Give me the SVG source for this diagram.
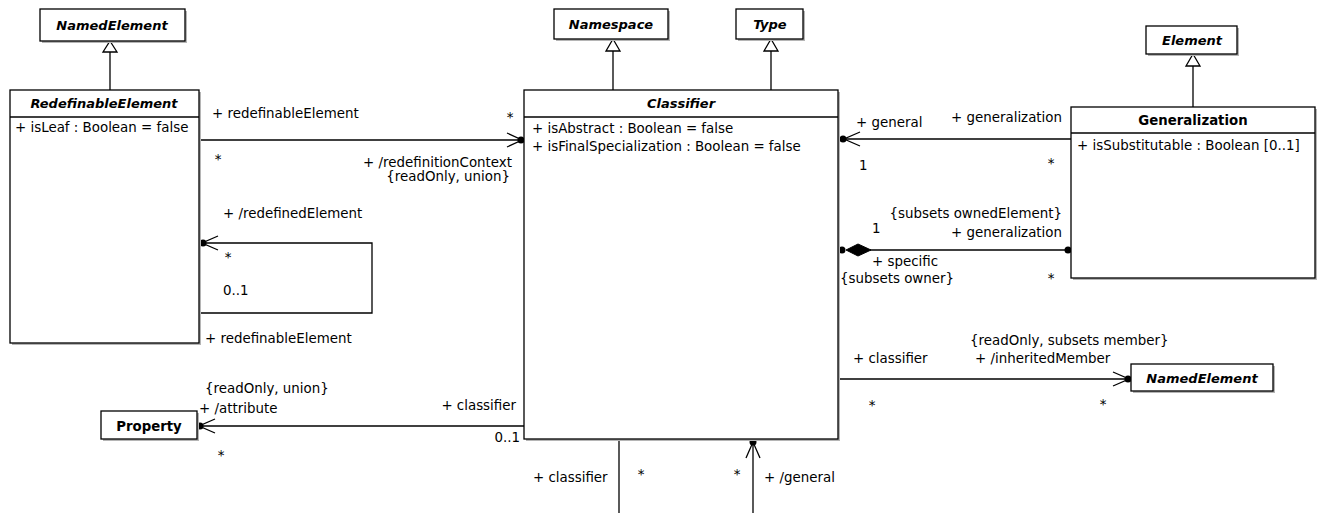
<svg xmlns="http://www.w3.org/2000/svg" width="1318" height="513" viewBox="0 0 1318 513">
<style>
text{font-family:"DejaVu Sans",Verdana,sans-serif;font-size:13.4px;fill:#000}
.t{font-weight:bold;font-style:italic;text-anchor:middle;font-size:13px}
.tb{font-weight:bold;text-anchor:middle;font-size:13.3px}
.m{text-anchor:middle}
.e{text-anchor:end}
.box{fill:#fff;stroke:#000;stroke-width:1.3}
.sh{fill:#b5b5b5}
.ln{fill:none;stroke:#000;stroke-width:1.3}
.tri{fill:#fff;stroke:#000;stroke-width:1.3}
.dot{fill:#000}
</style>
<rect width="1318" height="513" fill="#fff"/>

<g id="connectors">
  <!-- generalizations -->
  <line class="ln" x1="110" y1="52" x2="110" y2="90"/>
  <polygon class="tri" points="110,41 117,52 103,52"/>
  <line class="ln" x1="613" y1="51" x2="613" y2="90"/>
  <polygon class="tri" points="613,39 620,51 606,51"/>
  <line class="ln" x1="771" y1="51" x2="771" y2="90"/>
  <polygon class="tri" points="771,39 778,51 764,51"/>
  <line class="ln" x1="1193" y1="66" x2="1193" y2="107"/>
  <polygon class="tri" points="1193,54 1200,66 1186,66"/>

  <!-- redefinitionContext -->
  <line class="ln" x1="200" y1="140" x2="522" y2="140"/>
  <polyline class="ln" points="507,133 522,140 507,147"/>
  <circle class="dot" cx="521" cy="140" r="3.5"/>

  <!-- redefinedElement self loop -->
  <polyline class="ln" points="201,243 372,243 372,313 200,313"/>
  <polyline class="ln" points="218,236 202,243 218,250"/>
  <circle class="dot" cx="203" cy="243" r="3.5"/>

  <!-- attribute -->
  <line class="ln" x1="198" y1="426" x2="524" y2="426"/>
  <polyline class="ln" points="215,419 199,426 215,433"/>
  <circle class="dot" cx="200" cy="426" r="3.5"/>

  <!-- general -->
  <line class="ln" x1="839" y1="139" x2="1071" y2="139"/>
  <polyline class="ln" points="860,132 844,139 860,146"/>
  <circle class="dot" cx="843" cy="139" r="3.5"/>

  <!-- specific composition -->
  <line class="ln" x1="870" y1="250" x2="1070" y2="250"/>
  <polygon points="846,250 858,244 871,250 858,256" fill="#000" stroke="#000" stroke-width="1"/>
  <circle class="dot" cx="842" cy="250" r="3.5"/>
  <circle class="dot" cx="1068" cy="250" r="3.5"/>

  <!-- inheritedMember -->
  <line class="ln" x1="839" y1="379" x2="1130" y2="379"/>
  <polyline class="ln" points="1113,372 1129,379 1113,386"/>
  <circle class="dot" cx="1128" cy="379" r="3.5"/>

  <!-- bottom lines -->
  <line class="ln" x1="619" y1="439" x2="619" y2="513"/>
  <line class="ln" x1="753" y1="441" x2="753" y2="513"/>
  <polyline class="ln" points="746,458 753,442 760,458"/>
  <circle class="dot" cx="753" cy="442" r="3.5"/>
</g>

<g id="labels">
  <text x="212" y="118">+ redefinableElement</text>
  <text class="m" x="218" y="164">*</text>
  <text class="e" x="512" y="167">+ /redefinitionContext</text>
  <text class="e" x="510" y="181">{readOnly, union}</text>
  <text class="m" x="510" y="122">*</text>
  <text x="223" y="218">+ /redefinedElement</text>
  <text class="m" x="228" y="262">*</text>
  <text x="223" y="295">0..1</text>
  <text x="205" y="343">+ redefinableElement</text>
  <text x="205" y="393">{readOnly, union}</text>
  <text x="199" y="413">+ /attribute</text>
  <text class="m" x="221" y="460">*</text>
  <text class="e" x="516" y="410">+ classifier</text>
  <text class="e" x="520" y="442">0..1</text>
  <text x="533" y="482">+ classifier</text>
  <text class="m" x="641" y="479">*</text>
  <text class="m" x="737" y="479">*</text>
  <text x="764" y="482">+ /general</text>
  <text x="856" y="127">+ general</text>
  <text x="859" y="170">1</text>
  <text class="e" x="1062" y="122">+ generalization</text>
  <text class="m" x="1051" y="168">*</text>
  <text class="e" x="1062" y="218">{subsets ownedElement}</text>
  <text x="872" y="233">1</text>
  <text class="e" x="1062" y="237">+ generalization</text>
  <text x="872" y="266">+ specific</text>
  <text x="840" y="283">{subsets owner}</text>
  <text class="m" x="1051" y="283">*</text>
  <text x="853" y="363">+ classifier</text>
  <text class="m" x="872" y="410">*</text>
  <text x="970" y="345">{readOnly, subsets member}</text>
  <text x="975" y="363">+ /inheritedMember</text>
  <text class="m" x="1103" y="409">*</text>
</g>

<g id="NamedElement_top">
  <rect class="sh" x="42" y="11" width="145" height="32"/>
  <rect class="box" x="40" y="9" width="145" height="32"/>
  <text class="t" x="112" y="30">NamedElement</text>
</g>

<g id="Namespace">
  <rect class="sh" x="556" y="11" width="114" height="30"/>
  <rect class="box" x="554" y="9" width="114" height="30"/>
  <text class="t" x="611" y="29">Namespace</text>
</g>

<g id="Type">
  <rect class="sh" x="738" y="11" width="67" height="30"/>
  <rect class="box" x="736" y="9" width="67" height="30"/>
  <text class="t" x="770" y="29">Type</text>
</g>

<g id="Element">
  <rect class="sh" x="1148" y="28" width="91" height="28"/>
  <rect class="box" x="1146" y="26" width="91" height="28"/>
  <text class="t" x="1192" y="45">Element</text>
</g>

<g id="RedefinableElement">
  <rect class="sh" x="12" y="92" width="189" height="253"/>
  <rect class="box" x="10" y="90" width="189" height="253"/>
  <line class="ln" x1="10" y1="117" x2="199" y2="117"/>
  <text class="t" x="104" y="108">RedefinableElement</text>
  <text x="15" y="132">+ isLeaf : Boolean = false</text>
</g>

<g id="Classifier">
  <rect class="sh" x="526" y="92" width="314" height="349"/>
  <rect class="box" x="524" y="90" width="314" height="349"/>
  <line class="ln" x1="524" y1="117" x2="838" y2="117"/>
  <text class="t" x="681" y="108">Classifier</text>
  <text x="532" y="133">+ isAbstract : Boolean = false</text>
  <text x="532" y="151">+ isFinalSpecialization : Boolean = false</text>
</g>

<g id="Generalization">
  <rect class="sh" x="1073" y="109" width="244" height="171"/>
  <rect class="box" x="1071" y="107" width="244" height="171"/>
  <line class="ln" x1="1071" y1="133" x2="1315" y2="133"/>
  <text class="tb" x="1193" y="125">Generalization</text>
  <text x="1077" y="150">+ isSubstitutable : Boolean [0..1]</text>
</g>

<g id="Property">
  <rect class="sh" x="103" y="413" width="96" height="28"/>
  <rect class="box" x="101" y="411" width="96" height="28"/>
  <text class="tb" x="149" y="431">Property</text>
</g>

<g id="NamedElement_right">
  <rect class="sh" x="1133" y="366" width="142" height="27"/>
  <rect class="box" x="1131" y="364" width="142" height="27"/>
  <text class="t" x="1202" y="383">NamedElement</text>
</g>
</svg>
